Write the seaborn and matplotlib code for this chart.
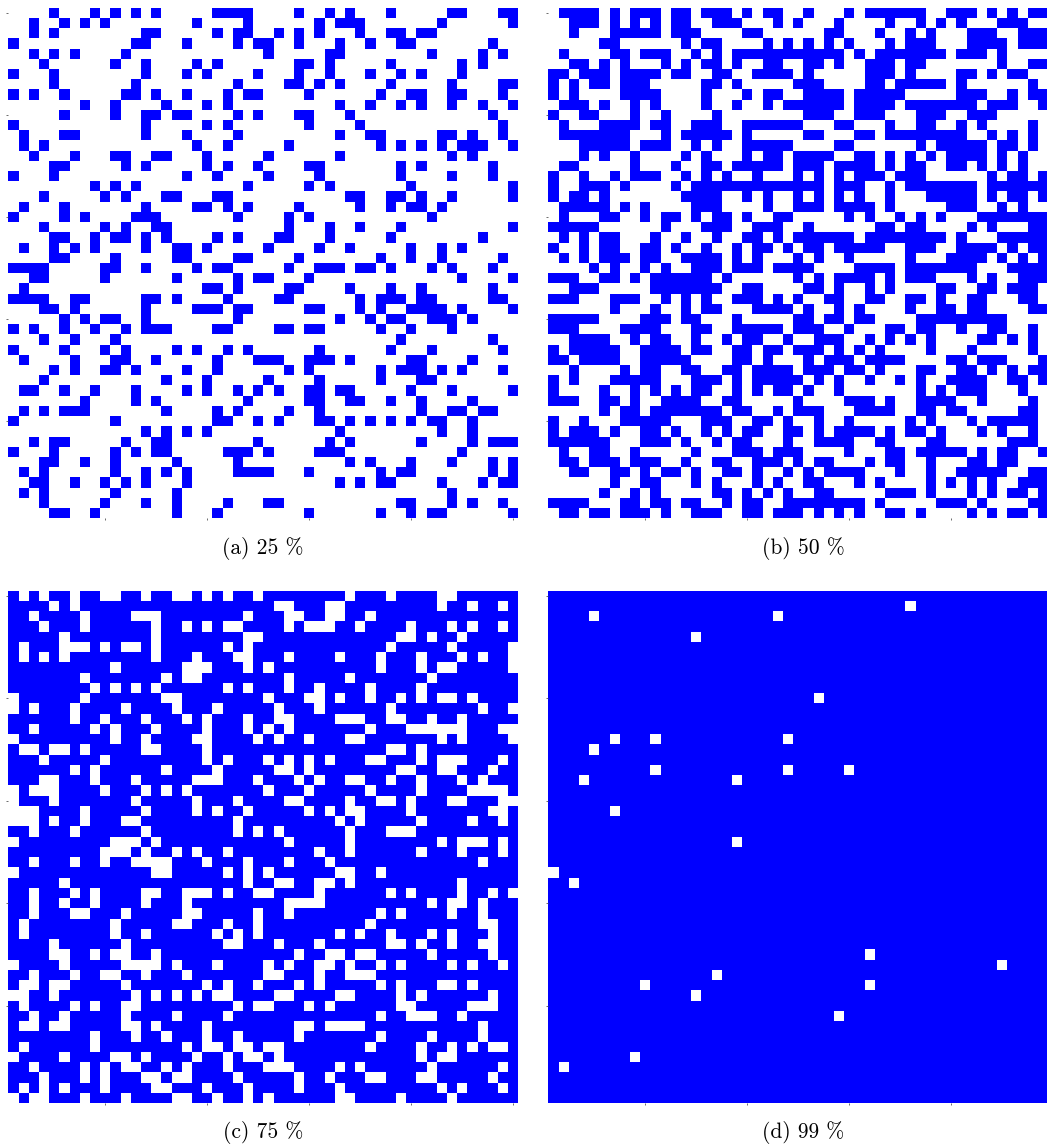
import numpy as np
import matplotlib
matplotlib.use("Agg")
import matplotlib.pyplot as plt
from matplotlib.colors import ListedColormap
import seaborn as sns

N = 50

# Panel (a) 25 %: blue cells (column indices) for each row, top to bottom
a_blue = [
    [4,8,10,12,14,20,21,22,23,28,31,33,37,43,44,48,49],
    [2,5,7,9,18,23,30,32,33,34,42,49],
    [2,4,13,14,20,22,23,26,28,30,34,37,38,40,41],
    [0,12,13,17,22,24,25,28,32,35,38,39,47],
    [2,4,6,11,25,31,32,41,46,48],
    [3,10,13,18,20,28,29,31,37,44,46],
    [0,4,13,17,19,24,28,31,35,38,40,44],
    [4,12,22,27,28,30,32,37,43,48,49],
    [0,2,5,11,12,14,17,21,23,24,29,36,39,40,43,44,48],
    [7,10,15,19,21,32,35,38,40,43,46,49],
    [5,10,13,14,16,17,22,24,28,29,33,47],
    [0,13,19,21,29,34,48],
    [1,5,6,13,17,22,32,35,36,42,43,45,48],
    [1,3,18,21,27,36,38,40,42,44,45,46,49],
    [2,6,10,11,14,15,19,25,32,43,45],
    [4,5,11,13,19,21,24,29,30,38,40,47],
    [0,4,17,20,25,30,38,43,47],
    [8,10,12,23,29,31,39,49],
    [3,9,11,15,16,20,21,33,34,37,38,40,43,49],
    [1,5,13,18,19,21,23,28,34,37,39,40,42],
    [0,5,7,12,13,14,22,27,29,41],
    [3,9,11,14,15,27,31,34,38,49],
    [4,5,8,10,11,13,15,20,22,26,27,31,37,46],
    [1,4,6,8,13,16,17,19,25,30,33,39,42,44],
    [4,5,10,16,17,22,23,28,36,39,42,48],
    [0,1,2,3,9,10,13,18,20,21,27,30,31,32,34,35,37,41,43,47],
    [2,3,9,16,22,24,25,29,44,49],
    [1,19,20,22,27,28,33,37,40,47],
    [0,1,2,3,6,7,13,14,16,21,26,27,34,36,37,38,40,41,47,48],
    [3,4,6,13,18,19,20,22,23,29,30,34,36,39,40,41,42,44,49],
    [5,7,9,10,13,22,32,35,37,38,41,42,43,45],
    [0,2,5,8,11,13,14,15,20,21,26,27,29,30,36,39,43],
    [3,6,10,38,47],
    [0,5,9,11,16,18,21,23,30,37,41,48],
    [1,6,10,11,14,20,24,25,26,29,30,31,33,39,40,45],
    [4,6,9,10,12,17,20,27,29,36,38,39,40,42,44,48],
    [3,15,19,25,30,36,40,41],
    [1,2,5,8,12,17,19,22,24,26,29,30,32,33,39,43,49],
    [7,12,14,23,29,30,33,34,37,40,45],
    [1,3,5,6,7,15,20,22,27,30,40,43,44,46,47],
    [0,10,20,21,24,26,30,31,33,35,37,39,41,42,45],
    [13,15,17,19,32,42,45],
    [2,4,5,11,14,15,24,31,33,40,45,47,48,49],
    [0,4,10,12,14,15,21,22,23,25,30,31,32,44],
    [3,4,7,10,16,22,33,35,39,43,47,49],
    [1,3,10,13,15,17,22,23,24,25,29,36,38,39,47,49],
    [2,3,6,9,11,13,17,32,34,36,37,42,46,48,49],
    [1,3,10,16,43],
    [3,9,13,16,21,25,26,38,39,43,45,48],
    [4,5,8,16,20,29,36,39,41,42,49],
]

# Panel (b) 50 %: blue cells per row (last column is cut off in the original)
b_blue = [
    [1,2,3,4,6,8,9,10,12,13,15,16,17,19,21,22,25,29,31,32,33,34,35,36,39,40,41,43,45,47,48],
    [2,3,4,6,8,10,12,13,16,17,18,22,24,28,33,36,38,40,44,45,46],
    [2,6,7,8,9,10,12,13,14,19,20,27,28,32,35,37,41,42,43,46,47,48],
    [5,6,13,15,16,21,23,25,27,29,33,35,36,37,41,42,43,44,46,47,48],
    [1,6,7,9,10,11,14,16,18,19,20,21,22,23,24,25,26,27,28,30,32,33,34,35,36,37,38,40,41,42,44],
    [2,3,5,7,11,13,15,16,18,21,22,25,26,28,31,32,33,35,36,44,47,48],
    [0,1,3,4,5,7,8,9,10,12,13,16,17,20,21,22,23,25,31,32,33,35,40,41,43,45,46],
    [0,2,4,5,7,8,9,15,16,18,24,25,26,31,32,34,35,36,37,38,40,47],
    [0,2,7,8,9,10,15,19,21,22,25,26,27,28,30,31,32,33,34,40,41,42,45,47,48],
    [1,2,3,5,8,10,15,18,21,23,24,25,26,27,28,30,31,32,33,35,36,37,38,39,40,41,43,44,45,48],
    [0,3,4,8,11,16,25,26,27,30,31,32,36,37,38,41,42,43],
    [1,5,6,7,8,10,11,14,15,16,19,20,21,22,23,24,28,29,33,36,37,40,42,47],
    [1,2,3,4,5,6,7,11,13,14,15,16,17,19,25,26,30,31,33,34,35,36,37,38,39,40,43,45,47],
    [3,4,5,6,7,9,10,11,14,16,19,20,21,22,23,28,29,36,38,39,40,41,42,44,45,47],
    [3,5,8,13,15,19,21,22,24,25,26,27,30,31,33,35,37,39,40,41,42,44,46],
    [1,2,8,12,15,16,18,19,20,21,22,24,25,26,28,29,30,31,33,35,36,39,40,42,44,46],
    [0,3,6,8,9,10,13,15,17,20,24,26,28,30,31,32,34,35,36,43,45,46,48],
    [0,3,4,5,7,12,14,15,16,17,18,19,20,21,22,23,24,25,26,28,29,30,33,35,36,37,38,39,40,41,43,44,45,46,47,48],
    [0,2,3,5,13,14,15,16,19,21,24,26,28,30,33,37,38,39,40,41,43,45,46,48],
    [1,2,3,4,5,7,9,14,15,16,21,24,25,26,28,29,30,31,33,39,40,41,44,46],
    [1,5,6,9,11,12,14,16,17,19,22,23,29,31,34,36,38,42,43,44,45,46,47,48],
    [0,1,2,3,4,11,15,16,17,20,21,22,25,32,33,35,36,41,43,47,48],
    [1,3,5,6,10,13,16,19,20,22,24,25,26,27,28,29,31,32,33,34,35,36,37,38,40,44,45,46,47,48],
    [0,3,5,6,9,10,12,15,18,20,21,23,25,26,28,29,30,31,32,35,36,37,40,41,42,43,45,47,48],
    [1,3,5,6,7,9,10,13,14,15,16,18,20,24,26,29,35,39,40,41,42,44,46,48],
    [4,6,9,11,14,15,16,18,19,20,22,23,24,25,30,31,32,33,35,36,37,38,39,40,41,45,46,47,48],
    [0,1,2,5,6,8,10,11,12,13,14,15,17,24,26,28,29,30,31,33,35,36,37,41,43,46,47,48],
    [2,3,4,10,11,12,13,14,15,16,19,20,25,26,28,31,33,38,39,42,43,45,46,47],
    [0,1,2,6,7,8,11,13,15,18,19,20,22,24,27,28,31,32,35,36,38,41,42,46,47],
    [6,10,13,15,16,20,21,22,23,25,28,30,35,38,39,41,42,47,48],
    [0,1,2,3,4,9,10,11,13,14,18,24,25,27,28,30,31,36,37,38,39,40,41,42,43,44],
    [0,1,2,7,8,9,10,14,15,18,19,20,21,22,24,25,26,29,33,34,36,37,40,43,44,47],
    [2,3,4,5,8,10,11,14,17,19,20,23,26,27,28,31,33,35,37,42,43,45,47],
    [0,2,3,4,5,6,9,10,11,12,14,15,18,19,21,22,24,25,26,28,30,32,37,41,47],
    [0,1,3,4,5,6,9,10,11,12,13,18,19,21,25,27,28,29,31,32,33,34,39,40,42,43,44,48],
    [2,7,9,10,13,14,17,18,20,21,22,23,25,26,27,29,30,32,36,37,40,41,43,45,47,48],
    [0,2,6,7,8,9,10,14,15,16,18,20,21,22,23,24,26,28,31,34,36,39,40,41,42,45,46,48],
    [0,5,8,10,12,14,15,18,20,22,23,25,28,36,38,40,41,42,46],
    [0,1,2,5,6,8,11,12,13,14,17,18,24,29,30,31,33,36,37,38,39,42,47],
    [5,7,8,10,11,12,13,14,15,16,18,19,22,24,25,26,30,31,32,33,36,37,39,40,46,47],
    [0,3,7,8,9,10,11,15,16,17,20,21,23,26,29,35,37,41,43,44,45,46,47],
    [0,2,3,4,6,9,10,12,15,17,19,20,23,24,26,28,29,30,31,33,35,36,38,42,44,47],
    [0,1,2,3,4,5,9,10,11,13,16,18,19,23,26,27,28,29,32,33,37,38,45,46,47],
    [1,4,5,8,14,18,19,20,22,23,24,29,33,34,36,37,38,39,40,42,44,45,48],
    [1,2,4,5,6,8,9,10,13,16,17,20,21,22,24,26,27,31,33,34,37,41,42,44,45],
    [2,3,6,7,9,11,12,14,17,18,20,23,25,27,28,29,30,34,37,40,41,42,43,44,47,48],
    [6,9,10,14,16,20,22,25,26,30,32,37,39,41,43,46,47,48],
    [5,8,10,16,17,19,21,23,26,27,33,34,35,37,41,43,45,46,48],
    [0,1,2,3,7,8,10,11,13,14,17,19,20,23,24,25,26,27,28,29,30,32,38,39,40,42,47,48],
    [1,2,4,5,7,8,9,11,14,15,16,19,20,22,23,24,26,28,30,33,34,36,41,43,45,46,48],
]

# Panel (c) 75 %: white cells per row
c_white = [
    [1,3,6,9,10,13,16,17,19,21,24,33,37,42,43],
    [4,6,26,27,31,32,42,45,48],
    [2,7,12,13,14,23,27,28,31,32,35],
    [3,7,14,17,19,21,22,27,29,30,31,34,39,43,45,48],
    [5,14,23,24,38,39,41,44],
    [1,5,6,7,9,11,12,14,21,23,37,43,49],
    [1,3,5,14,18,22,23,27,32,36,40,44,46,49],
    [10,17,18,19,23,25,36,40,42,43,49],
    [7,15,17,18,27,33,41],
    [8,10,12,14,21,23,27,30,35,40],
    [0,7,15,16,25,29,30,32,35,38,40,42,43,45],
    [0,2,6,11,16,20,26,30,37,46,49],
    [6,9,13,17,19,23,26,27,32,33,34,37,38,41,44],
    [2,8,10,14,19,23,25,27,35,39,40,41,42,43,44,48,49],
    [0,10,13,18,19,24,26,29,33,34,42,44,49],
    [1,2,4,5,7,13,14,19,37,38,40],
    [3,9,19,21,25,27,29,31,35,36,40,42,43,44,48],
    [6,8,15,20,26,27,29,38,39,42,43,47],
    [3,4,8,12,18,19,20,24,28,30,33,34,37,40,44,46],
    [0,2,3,4,9,13,15,17,25,29,35,40,45,46,47,48],
    [0,4,12,18,22,27,28,33,36,37,39,43,44,48,49],
    [0,1,2,7,13,18,20,23,29,31,33,34,39,47,48],
    [0,1,2,4,7,11,12,22,32,34,40,45,48],
    [2,6,13,22,24,26,33,37,38,39],
    [0,10,11,12,14,27,33,42,44,45,46,48],
    [9,10,11,13,16,18,21,30,33,40,44,48],
    [2,6,9,12,13,14,15,19,23,27,31,46],
    [0,14,15,21,23,25,32,33,36],
    [5,23,26,27,30,31,33,44],
    [2,6,8,13,14,17,18,19,21,24,25,30,37,39,44,47,49],
    [2,5,8,13,17,27,28,29,30,41,43,44,46],
    [2,6,7,11,17,18,24,27,36,38,43,46],
    [1,10,16,17,21,24,35,46,47],
    [1,10,13,20,22,24,32,34,37,41,43,47],
    [4,11,21,22,26,30,37,38,40,43,46,47],
    [4,5,8,10,11,14,28,31,32,34,35,41,47],
    [0,5,11,12,13,14,16,20,25,27,30,31,33,36,38,43,45,48],
    [2,6,9,10,13,17,25,26,30,33,34,35],
    [1,2,4,5,11,19,21,24,28,30,36,38,42,43,45],
    [0,1,4,12,14,16,18,20,21,26,27,32,33,38,40,47],
    [1,6,8,11,12,22,24,25,29,31,38,39,45,46,47],
    [2,5,11,16,21,36,39,40,41,44],
    [1,2,4,5,11,12,14,19,28,29,31,32,33,34,46],
    [8,12,15,19,22,28,36,41,46],
    [1,8,17,19,20,22,23,25,26,35,40,43,45,47,48],
    [0,5,10,11,13,18,21,23,24,26,40,42,43],
    [2,7,9,11,12,15,17,21,25,26,27,32,34,41,48],
    [3,7,9,13,14,16,17,22,28,31,35,36,40,41,47],
    [1,3,5,9,14,15,19,23,28,32,42,44,48],
    [0,2,3,7,11,16,17,20,23,25,32,33,38,43],
]

# Panel (d) 99 %: white cells (row, column)
d_white_rows = [1, 2, 2, 4, 10, 14, 14, 14, 15, 17, 17, 17, 18, 18, 21, 24, 27, 28,
                35, 36, 37, 38, 38, 39, 41, 45, 46]
d_white_cols = [35, 4, 22, 14, 26, 6, 10, 23, 4, 10, 23, 29, 3, 18, 6, 18, 0, 2,
                31, 44, 16, 9, 31, 14, 28, 8, 1]

captions = ["(a) 25 %", "(b) 50 %", "(c) 75 %", "(d) 99 %"]


def from_blue(rows):
    m = np.zeros((N, N))
    for r, cols in enumerate(rows):
        m[r, cols] = 1
    return m


def from_white(rows):
    m = np.ones((N, N))
    for r, cols in enumerate(rows):
        m[r, cols] = 0
    return m


mat_a = from_blue(a_blue)
mat_b = from_blue(b_blue)
mat_c = from_white(c_white)
mat_d = np.ones((N, N))
mat_d[d_white_rows, d_white_cols] = 0

W, H = 1047, 1148
fig = plt.figure(figsize=(W / 100, H / 100), dpi=100)

# axes boxes in pixels: (left, top, width, height)
boxes = [(8.3, 7.7, 510, 510.5), (548.3, 7.7, 510, 510.5),
         (8.3, 590.7, 510, 512.3), (548.3, 590.7, 510, 512.3)]
cap_pos = [(263, 549), (803, 549), (263, 1133), (803, 1133)]

cmap = ListedColormap(["#0000ff"])
for mat, (l, t, w, h), cap, (cx, cy) in zip([mat_a, mat_b, mat_c, mat_d], boxes, captions, cap_pos):
    ax = fig.add_axes([l / W, 1 - (t + h) / H, w / W, h / H])
    sns.heatmap(mat, mask=(mat == 0), cmap=cmap, vmin=0, vmax=1, cbar=False,
                linewidths=0, antialiased=True, xticklabels=False,
                yticklabels=False, ax=ax, square=False)
    ax.set_xlim(0, N)
    ax.set_ylim(N, 0)
    ax.set_xticks([9.5, 19.5, 29.5, 39.5, 49.5])
    ax.set_yticks([0.5, 10.5, 20.5, 30.5, 40.5])
    ax.tick_params(length=1.5, width=0.6, color="#555555", direction="out",
                   labelbottom=False, labelleft=False, bottom=True, left=True)
    for s in ax.spines.values():
        s.set_visible(False)
    fig.text(cx / W, 1 - cy / H, cap, ha="center", va="center",
             fontsize=15.5, family="cmr10")

fig.savefig("out.png", dpi=100)
